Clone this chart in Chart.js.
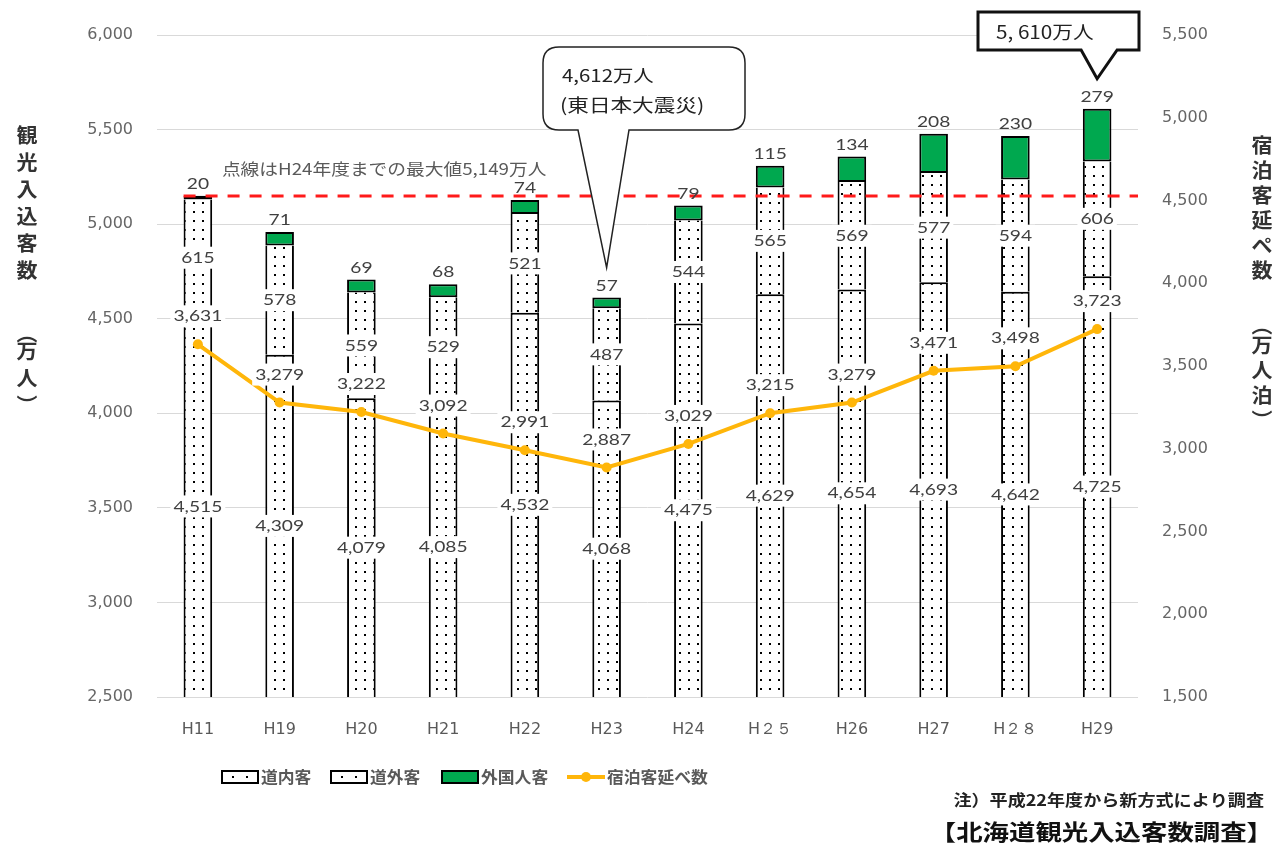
<!DOCTYPE html>
<html>
<head>
<meta charset="utf-8">
<script src="https://cdn.jsdelivr.net/npm/chart.js@4.4.1/dist/chart.umd.min.js"></script>
<style>
html,body{margin:0;padding:0;background:#fff;}
#wrap{width:1277px;height:846px;position:relative;}
</style>
</head>
<body>
<div id="wrap"><canvas id="c" width="1277" height="846"></canvas></div>
<script>
const categories = ['H11','H19','H20','H21','H22','H23','H24','H２５','H26','H27','H２８','H29'];
const domestic   = [4515,4309,4079,4085,4532,4068,4475,4629,4654,4693,4642,4725];
const otherPref  = [615,578,559,529,521,487,544,565,569,577,594,606];
const foreign    = [20,71,69,68,74,57,79,115,134,208,230,279];
const stays      = [3631,3279,3222,3092,2991,2887,3029,3215,3279,3471,3498,3723];
const leftMin = 2500, leftMax = 6000, leftStep = 500;
const rightMin = 1500, rightMax = 5500, rightStep = 500;
const previousMax = 5149;
const seriesNames = ['道内客','道外客','外国人客','宿泊客延べ数'];
const leftTitle = ['観','光','入','込','客','数','','︵','万','人','︶'];
const rightTitle = ['宿','泊','客','延','ぺ','数','','︵','万','人','泊','︶'];
const noteText = '点線はH24年度までの最大値5,149万人';
const callout1 = ['4,612万人','(東日本大震災)'];
const callout2 = '5, 610万人';
const footNote = '注）平成22年度から新方式により調査';
const sourceText = '【北海道観光入込客数調査】';

const CJK = '"Noto Sans CJK JP", "Noto Sans", sans-serif';
const NUM = 'Lato, "Noto Sans", sans-serif';
const GREEN = '#00a84f';
const YELLOW = '#ffb60a';

function dotPattern(){
  const p = document.createElement('canvas');
  p.width = 9; p.height = 9;
  const g = p.getContext('2d');
  g.fillStyle = '#fff'; g.fillRect(0,0,9,9);
  g.fillStyle = '#000'; g.fillRect(4,4,2,2);
  return document.getElementById('c').getContext('2d').createPattern(p,'repeat');
}
const pat = dotPattern();

function sText(ctx, text, x, y, font, color, align, sx){
  sx = sx || 1.2;
  ctx.save();
  ctx.font = font; ctx.fillStyle = color; ctx.textBaseline = 'middle';
  ctx.textAlign = align || 'center';
  ctx.translate(x, y); ctx.scale(sx, 1);
  ctx.fillText(text, 0, 0);
  ctx.restore();
}
function sWidth(ctx, text, font, sx){
  ctx.save(); ctx.font = font; const w = ctx.measureText(text).width; ctx.restore();
  return w * (sx || 1.2);
}
function bgLabel(ctx, text, x, y){
  const font = '16px ' + NUM;
  const w = sWidth(ctx, text, font);
  ctx.fillStyle = '#fff';
  ctx.fillRect(x - w/2 - 3, y - 11, w + 6, 22);
  sText(ctx, text, x, y, font, '#404040');
}
function fmt(v){ return v.toLocaleString('en-US'); }

const overlay = {
  id: 'overlay',
  afterDatasetsDraw(chart){
    const ctx = chart.ctx, area = chart.chartArea;
    const ys = chart.scales.y;
    const m0 = chart.getDatasetMeta(0), m1 = chart.getDatasetMeta(1), m2 = chart.getDatasetMeta(2), m3 = chart.getDatasetMeta(3);
    // dashed max line
    const dy = ys.getPixelForValue(previousMax);
    const firstBar = m0.data[0];
    ctx.save();
    ctx.strokeStyle = '#ff1a1a'; ctx.lineWidth = 3; ctx.setLineDash([12, 10]);
    ctx.beginPath(); ctx.moveTo(firstBar.x - firstBar.width/2, dy); ctx.lineTo(area.right, dy); ctx.stroke();
    ctx.restore();
    sText(ctx, noteText, firstBar.x + 24, dy - 27, '16px ' + CJK, '#595959', 'left', 1.17);
    // labels
    for (let i = 0; i < categories.length; i++){
      const a = m0.data[i], b = m1.data[i], c = m2.data[i], p = m3.data[i];
      const aBase = Math.min(a.base, area.bottom);
      bgLabel(ctx, fmt(domestic[i]), a.x, (a.y + aBase)/2);
      bgLabel(ctx, fmt(otherPref[i]), b.x, (b.y + b.base)/2);
      sText(ctx, fmt(foreign[i]), c.x, c.y - 12, '16px ' + NUM, '#404040');
      bgLabel(ctx, fmt(stays[i]), p.x, p.y - 28);
    }
    // callout 1 (H23)
    const t1 = m2.data[5];
    ctx.save();
    ctx.strokeStyle = '#222'; ctx.lineWidth = 1.5; ctx.fillStyle = '#fff';
    const L = 543, T = 47, R = 745, B = 130, r = 16;
    const tipX = t1.x, tipY = t1.y - 30;
    ctx.beginPath();
    ctx.moveTo(L + r, T); ctx.lineTo(R - r, T); ctx.quadraticCurveTo(R, T, R, T + r);
    ctx.lineTo(R, B - r); ctx.quadraticCurveTo(R, B, R - r, B);
    ctx.lineTo(629, B); ctx.lineTo(tipX, tipY); ctx.lineTo(578, B);
    ctx.lineTo(L + r, B); ctx.quadraticCurveTo(L, B, L, B - r);
    ctx.lineTo(L, T + r); ctx.quadraticCurveTo(L, T, L + r, T);
    ctx.closePath(); ctx.fill(); ctx.stroke();
    ctx.restore();
    sText(ctx, callout1[0], 562, 76, '17px ' + CJK, '#222', 'left', 1.2);
    sText(ctx, callout1[1], 560, 105, '18px ' + CJK, '#222', 'left', 1.2);
    // callout 2 (H29)
    const t2 = m2.data[11];
    ctx.save();
    ctx.strokeStyle = '#111'; ctx.lineWidth = 3; ctx.fillStyle = '#fff';
    const L2 = 978, T2 = 12, R2 = 1139, B2 = 50;
    ctx.beginPath();
    ctx.moveTo(L2, T2); ctx.lineTo(R2, T2); ctx.lineTo(R2, B2);
    ctx.lineTo(t2.x + 20, B2); ctx.lineTo(t2.x, t2.y - 30); ctx.lineTo(t2.x - 16, B2);
    ctx.lineTo(L2, B2); ctx.closePath(); ctx.fill(); ctx.stroke();
    ctx.restore();
    sText(ctx, callout2, 996, 32, '18px ' + CJK, '#222', 'left', 1.15);
  },
  afterDraw(chart){
    const ctx = chart.ctx;
    // vertical titles
    const tf = 'bold 20px ' + CJK;
    let y = 135;
    leftTitle.forEach((ch) => {
      if (ch) sText(ctx, ch, 27, y, tf, '#333', 'center', 1.05);
      y += (ch === '' ? 36 : (ch === '︵' ? 18 : 27));
    });
    y = 145;
    rightTitle.forEach((ch) => {
      if (ch) sText(ctx, ch, 1262, y, tf, '#333', 'center', 1.05);
      y += (ch === '' ? 30 : (ch === '︵' ? 20 : 25));
    });
    // legend
    const ly = 777, lf = 'bold 16px ' + CJK;
    const boxes = [[222, 'p'], [331, 'p'], [442, 'g']];
    boxes.forEach((bx, k) => {
      const x = bx[0];
      ctx.save();
      ctx.fillStyle = bx[1] === 'g' ? GREEN : '#fff';
      ctx.fillRect(x, ly - 6, 36, 12);
      ctx.strokeStyle = '#000'; ctx.lineWidth = 2; ctx.strokeRect(x, ly - 6, 36, 12);
      if (bx[1] === 'p') { ctx.fillStyle = '#000'; ctx.fillRect(x + 10, ly - 1, 2, 2); ctx.fillRect(x + 24, ly - 1, 2, 2); }
      ctx.restore();
      sText(ctx, seriesNames[k], x + 39, ly, lf, '#595959', 'left', 1.05);
    });
    ctx.save();
    ctx.strokeStyle = YELLOW; ctx.lineWidth = 4;
    ctx.beginPath(); ctx.moveTo(567, ly); ctx.lineTo(605, ly); ctx.stroke();
    ctx.fillStyle = YELLOW; ctx.beginPath(); ctx.arc(586, ly, 5, 0, Math.PI*2); ctx.fill();
    ctx.restore();
    sText(ctx, seriesNames[3], 607, ly, lf, '#595959', 'left', 1.05);
    // notes
    sText(ctx, footNote, 1264, 800, 'bold 16px ' + CJK, '#222', 'right', 1.13);
    sText(ctx, sourceText, 1273, 832, 'bold 22px ' + CJK, '#111', 'right', 1.2);
  }
};

const barCommon = {
  type: 'bar', yAxisID: 'y', order: 2,
  barPercentage: 0.35, categoryPercentage: 1.0,
  borderColor: '#000', borderSkipped: false
};

new Chart(document.getElementById('c'), {
  data: {
    labels: categories,
    datasets: [
      Object.assign({}, barCommon, { label: seriesNames[0], data: domestic, backgroundColor: pat, borderWidth: {left:2, right:2, top:2, bottom:0} }),
      Object.assign({}, barCommon, { label: seriesNames[1], data: otherPref, backgroundColor: pat, borderWidth: {left:2, right:2, top:0, bottom:0} }),
      Object.assign({}, barCommon, { label: seriesNames[2], data: foreign, backgroundColor: GREEN, borderWidth: 2 }),
      { type: 'line', label: seriesNames[3], data: stays, yAxisID: 'y2', order: 1,
        borderColor: YELLOW, backgroundColor: YELLOW, borderWidth: 4,
        pointRadius: 5, pointBackgroundColor: YELLOW, pointBorderWidth: 0, tension: 0 }
    ]
  },
  options: {
    responsive: false, animation: false,
    layout: { padding: { top: 35, bottom: 0, left: 0, right: 0 } },
    plugins: { legend: { display: false }, tooltip: { enabled: false } },
    scales: {
      x: {
        stacked: true,
        grid: { display: false }, border: { display: false },
        ticks: { color: '#595959', font: { family: 'DejaVu Sans', size: 16 }, padding: 15 },
        afterFit(s){ s.height = 149; }
      },
      y: {
        stacked: true, position: 'left', min: leftMin, max: leftMax,
        grid: { color: '#d9d9d9', lineWidth: 1, drawTicks: false }, border: { display: false },
        ticks: { stepSize: leftStep, color: '#666', padding: 24,
          font: { family: 'DejaVu Sans', size: 16 }, callback: v => fmt(v) },
        afterFit(s){ s.width = 157; }
      },
      y2: {
        position: 'right', min: rightMin, max: rightMax,
        grid: { display: false, drawTicks: false }, border: { display: false },
        ticks: { stepSize: rightStep, color: '#666', padding: 24,
          font: { family: 'DejaVu Sans', size: 16 }, callback: v => fmt(v) },
        afterFit(s){ s.width = 139; }
      }
    }
  },
  plugins: [overlay]
});
</script>
</body>
</html>
